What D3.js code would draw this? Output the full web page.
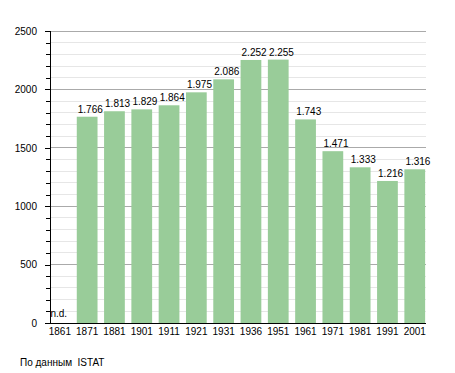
<!DOCTYPE html>
<html>
<head>
<meta charset="utf-8">
<script src="https://cdn.jsdelivr.net/npm/d3@7/dist/d3.min.js"></script>
<style>
  body { margin: 0; background: #fff; }
  svg { display: block; font-family: "Liberation Sans", Arial, sans-serif; }
</style>
</head>
<body>
<svg id="chart" width="455" height="373"></svg>
<script>
const years = ["1861","1871","1881","1901","1911","1921","1931","1936","1951","1961","1971","1981","1991","2001"];
const population = [null,1766,1813,1829,1864,1975,2086,2252,2255,1743,1471,1333,1216,1316];
const valueLabels = ["n.d.","1.766","1.813","1.829","1.864","1.975","2.086","2.252","2.255","1.743","1.471","1.333","1.216","1.316"];
const majorTicks = [0,500,1000,1500,2000,2500];
const minorTicks = d3.range(0, 2501, 100);
const sourceText = "По данным  ISTAT";

const svg = d3.select("#chart");
const axisX = 50, plotRight = 426, yBottom = 323, yTop = 31;

const x = d3.scaleBand().domain(years).range([46.2, 428.4]).paddingInner(0.24).paddingOuter(0.12);
const y = d3.scaleLinear().domain([0, 2500]).range([yBottom, yTop]);

// gridlines
svg.append("g").selectAll("line").data(minorTicks.filter(v => v % 500 !== 0)).join("line")
  .attr("x1", axisX).attr("x2", plotRight)
  .attr("y1", d => y(d)).attr("y2", d => y(d))
  .attr("stroke", "#e6e6e6").attr("stroke-width", 1).attr("shape-rendering", "crispEdges");
svg.append("g").selectAll("line").data(majorTicks.filter(v => v > 0)).join("line")
  .attr("x1", axisX).attr("x2", plotRight)
  .attr("y1", d => y(d)).attr("y2", d => y(d))
  .attr("stroke", "#aaaaaa").attr("stroke-width", 1).attr("shape-rendering", "crispEdges");

// bars
const data = years.map((yr, i) => ({ year: yr, value: population[i], label: valueLabels[i] }));
svg.append("g").selectAll("rect").data(data.filter(d => d.value != null)).join("rect")
  .attr("x", d => x(d.year)).attr("width", x.bandwidth())
  .attr("y", d => y(d.value)).attr("height", d => y(0) - y(d.value))
  .attr("fill", "#99cc99");

// value labels
svg.append("g").selectAll("text").data(data).join("text")
  .attr("x", d => x(d.year) + 1)
  .attr("y", d => d.value == null ? y(0) - 6 : y(d.value) - 4)
  .attr("font-size", 10).attr("fill", "#000")
  .text(d => d.label);

// y axis minor ticks
const yMinor = svg.append("g").attr("transform", `translate(${axisX},0)`)
  .call(d3.axisLeft(y).tickValues(minorTicks).tickSize(4).tickFormat(""));
yMinor.select(".domain").remove();
const yMajor = svg.append("g").attr("transform", `translate(${axisX},0)`)
  .call(d3.axisLeft(y).tickValues(majorTicks).tickSize(5).tickPadding(8).tickFormat(d3.format("d")));
yMajor.select(".domain").remove();
svg.selectAll(".tick line").attr("stroke", "#000").attr("shape-rendering", "crispEdges");
yMajor.selectAll("text").attr("font-size", 10).attr("font-family", "Liberation Sans, Arial, sans-serif").attr("fill", "#000");

svg.append("line").attr("x1", axisX + 0.5).attr("x2", axisX + 0.5).attr("y1", yTop).attr("y2", yBottom)
  .attr("stroke", "#000");

// x axis
const xAxis = svg.append("g").attr("transform", `translate(0,${yBottom})`)
  .call(d3.axisBottom(x).tickSize(0).tickPadding(5));
xAxis.select(".domain").remove();
xAxis.selectAll("text").attr("font-size", 10).attr("font-family", "Liberation Sans, Arial, sans-serif").attr("fill", "#000");
svg.append("line").attr("x1", axisX).attr("x2", plotRight).attr("y1", yBottom + 0.5).attr("y2", yBottom + 0.5)
  .attr("stroke", "#000");

// source
svg.append("text").attr("x", 20).attr("y", 366).attr("font-size", 10).attr("fill", "#000")
  .style("white-space", "pre").text(sourceText);
</script>
</body>
</html>
